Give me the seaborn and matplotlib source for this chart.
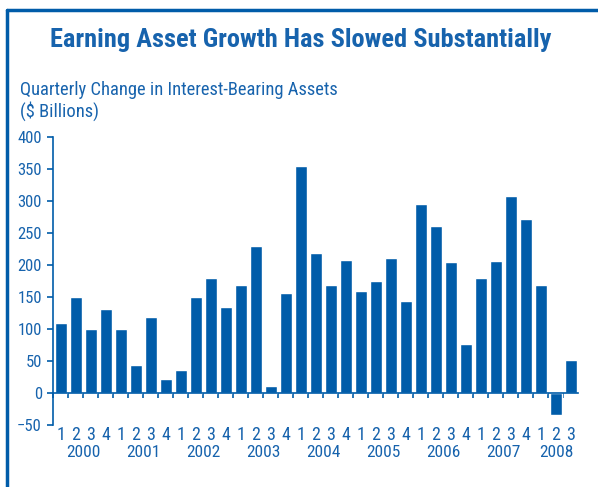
import matplotlib
matplotlib.use("Agg")
import matplotlib.pyplot as plt
from matplotlib.lines import Line2D
from matplotlib.ticker import FixedLocator
import seaborn as sns
import pandas as pd

# quarterly change in interest-bearing assets, $ billions (2000Q1 .. 2008Q3)
years = ['2000', '2001', '2002', '2003', '2004', '2005', '2006', '2007', '2008']
quarters = ['1', '2', '3', '4']
values = [110, 150, 100, 132,
          100, 43, 118, 22,
          36, 150, 180, 135,
          169, 229, 11, 157,
          354, 218, 169, 208,
          160, 175, 211, 144,
          296, 261, 204, 77,
          179, 207, 308, 272,
          169, -34, 52]

periods = [(y, q) for y in years for q in quarters][:len(values)]
df = pd.DataFrame({
    'period': [y + 'Q' + q for y, q in periods],
    'quarter': [q for y, q in periods],
    'year': [y for y, q in periods],
    'change': values,
})

blue = '#005ca9'
text_blue = '#1763ad'

sns.set_style('white')
plt.rcParams['font.family'] = ['Roboto Condensed', 'Archivo Narrow', 'DejaVu Sans']

fig = plt.figure(figsize=(5.98, 4.87), dpi=100)
ax = fig.add_axes([53 / 598, 1 - 425 / 487, 525 / 598, 288 / 487])

sns.barplot(data=df, x='period', y='change', color=blue, saturation=1,
            width=0.8, ax=ax)

ax.set_xlim(-0.53, 34.47)
ax.set_ylim(-50, 400)
ax.set_yticks(range(-50, 401, 50))
ax.set_xlabel('')
ax.set_ylabel('')

for s in ['top', 'right']:
    ax.spines[s].set_visible(False)
ax.spines['left'].set_color(blue)
ax.spines['left'].set_linewidth(1.2)
ax.spines['bottom'].set_position(('data', 0))
ax.spines['bottom'].set_color(blue)
ax.spines['bottom'].set_linewidth(1.2)

ax.set_xticks(range(len(values)))
ax.set_xticklabels(df['quarter'])
ax.xaxis.set_minor_locator(FixedLocator([i + 0.5 for i in range(-1, len(values))]))
ax.tick_params(axis='x', which='major', length=0, pad=24, labelsize=13,
               labelcolor=text_blue)
ax.tick_params(axis='x', which='minor', bottom=True, length=3.5, width=1.2,
               direction='out', color=blue)
ax.tick_params(axis='y', left=True, length=4, width=1.2, direction='out',
               color=blue, labelcolor=text_blue, labelsize=12, pad=4)

# year labels centred under each year's quarters
for y in years:
    idx = df.index[df['year'] == y]
    ax.text(idx.values.mean(), -0.096, y, transform=ax.get_xaxis_transform(),
            ha='center', va='center', fontsize=12.5, color=text_blue)

fig.text(0.503, 1 - 40 / 487, 'Earning Asset Growth Has Slowed Substantially',
         ha='center', va='center', fontsize=19, fontweight='bold', color=text_blue)
fig.text(20 / 598, 1 - 90 / 487, 'Quarterly Change in Interest-Bearing Assets',
         ha='left', va='center', fontsize=13.3, color=text_blue)
fig.text(20 / 598, 1 - 111 / 487, '($ Billions)',
         ha='left', va='center', fontsize=13.3, color=text_blue)

# frame: left and top border
fig.add_artist(Line2D([7 / 598, 7 / 598], [0, 1 - 10 / 487],
                      transform=fig.transFigure, color=blue, lw=2.5))
fig.add_artist(Line2D([7 / 598, 1], [1 - 10 / 487, 1 - 10 / 487],
                      transform=fig.transFigure, color=blue, lw=2.5))

fig.savefig('out.png', dpi=100)
